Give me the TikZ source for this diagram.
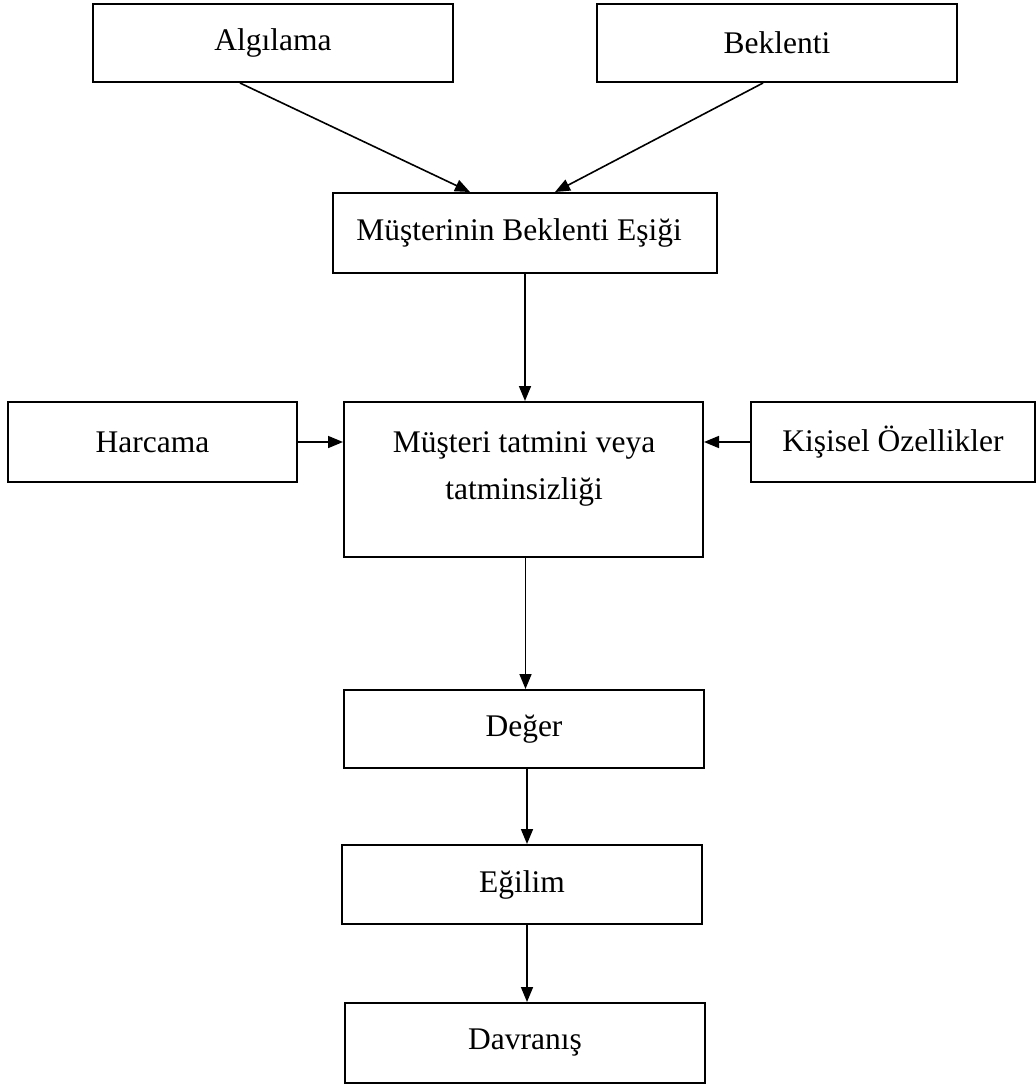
\documentclass[tikz,border=0pt]{standalone}
\usepackage{fontspec}
\setmainfont{Liberation Serif}
\usetikzlibrary{arrows.meta}

\tikzset{
  box/.style={draw, line width=2pt, rectangle, inner sep=0pt,
    font=\fontsize{31.5}{47}\selectfont},
  flow/.style={line width=1.6pt, -{Triangle[length=15pt,width=12pt]}},
  txt/.style={inner sep=0pt, align=center, font=\fontsize{31.5}{47}\selectfont}
}

\begin{document}
\begin{tikzpicture}[x=1pt,y=-1pt]
  \useasboundingbox (0,0) rectangle (1036,1085);

  % top inputs
  \node[box, minimum width=360pt, minimum height=78pt] (alg) at (273,43) {Algılama};
  \node[box, minimum width=360pt, minimum height=78pt] (bek) at (777,43) {Beklenti};

  % threshold
  \node[box, minimum width=384pt, minimum height=80pt] (esik) at (525,233) {};
  \node[txt] at (519,233) {Müşterinin Beklenti Eşiği};

  % satisfaction row
  \node[box, minimum width=289pt, minimum height=80pt] (harc) at (152.5,442) {Harcama};
  \node[box, minimum width=359pt, minimum height=155pt] (sat) at (523.5,479.5) {};
  \node[txt, anchor=north] at (524,431) {Müşteri tatmini veya\\tatminsizliği};
  \node[box, minimum width=284pt, minimum height=80pt] (kis) at (893,442) {Kişisel Özellikler};

  % outcome chain
  \node[box, minimum width=360pt, minimum height=78pt] (deg) at (524,729) {Değer};
  \node[box, minimum width=360pt, minimum height=79pt] (egi) at (522,884.5) {Eğilim};
  \node[box, minimum width=360pt, minimum height=80pt] (dav) at (525,1043) {Davranış};

  % connectors
  \draw[flow] ([xshift=-33pt]alg.south) -- ([xshift=-55pt]esik.north);
  \draw[flow] ([xshift=-14pt]bek.south) -- ([xshift=30pt]esik.north);
  \draw[flow] (esik.south) -- (esik.south |- sat.north);
  \draw[flow] (harc.east) -- (sat.west |- harc.east);
  \draw[flow] (kis.west) -- (sat.east |- kis.west);
  \draw[flow] ([xshift=2pt]sat.south) -- ([xshift=2pt]sat.south |- deg.north);
  \draw[flow] ([xshift=3pt]deg.south) -- ([xshift=3pt]deg.south |- egi.north);
  \draw[flow] ([xshift=5pt]egi.south) -- ([xshift=5pt]egi.south |- dav.north);
\end{tikzpicture}
\end{document}
